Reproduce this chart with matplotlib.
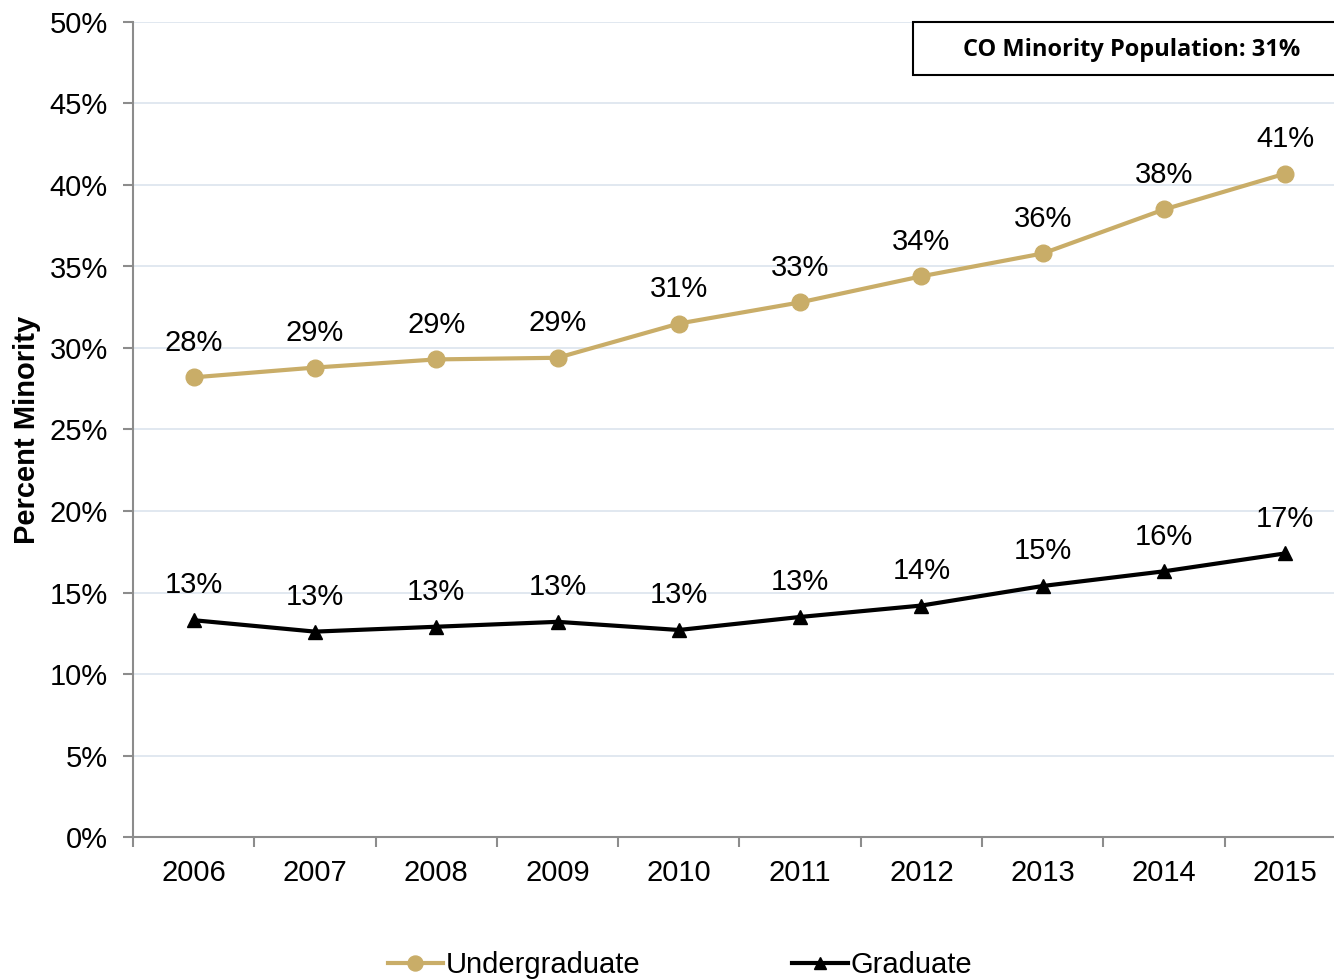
import matplotlib
matplotlib.use('Agg')
import matplotlib.pyplot as plt
from matplotlib.patches import Rectangle
from matplotlib.ticker import FuncFormatter, FixedLocator
import numpy as np

plt.rc('font', family=['Liberation Sans', 'DejaVu Sans'], size=21)

years = ['2006', '2007', '2008', '2009', '2010', '2011', '2012', '2013', '2014', '2015']
undergrad = [28.2, 28.8, 29.3, 29.4, 31.5, 32.8, 34.4, 35.8, 38.5, 40.7]
grad = [13.3, 12.6, 12.9, 13.2, 12.7, 13.5, 14.2, 15.4, 16.3, 17.4]
undergrad_labels = ['28%', '29%', '29%', '29%', '31%', '33%', '34%', '36%', '38%', '41%']
grad_labels = ['13%', '13%', '13%', '13%', '13%', '13%', '14%', '15%', '16%', '17%']
box_text = 'CO Minority Population: 31%'

gold = '#C9AD68'
spine = '#8C8C8C'

fig = plt.figure(figsize=(13.34, 9.8), dpi=100)
ax = fig.add_axes([133 / 1334, 1 - 837 / 980, 1213 / 1334, 815 / 980])

x = np.arange(len(years))
ax.plot(x, undergrad, color=gold, lw=3, marker='o', ms=12, label='Undergraduate', zorder=3)
ax.plot(x, grad, color='black', lw=3, marker='^', ms=10, label='Graduate', zorder=3)

for xi, v, t in zip(x, undergrad, undergrad_labels):
    ax.annotate(t, (xi, v), xytext=(0, 25), textcoords='offset points',
                ha='center', va='center', fontsize=21)
for xi, v, t in zip(x, grad, grad_labels):
    ax.annotate(t, (xi, v), xytext=(0, 25), textcoords='offset points',
                ha='center', va='center', fontsize=21)

ax.set_xlim(-0.5, len(years) - 0.5)
ax.set_ylim(0, 50)
ax.set_yticks(np.arange(0, 51, 5))
ax.yaxis.set_major_formatter(FuncFormatter(lambda v, p: '{:.0f}%'.format(v)))
ax.set_xticks(x)
ax.set_xticklabels(years)
ax.xaxis.set_minor_locator(FixedLocator(np.arange(-0.5, len(years), 1)))
ax.tick_params(axis='x', which='major', length=0, pad=16)
ax.tick_params(axis='x', which='minor', length=7, color=spine, width=1.5)
ax.tick_params(axis='y', length=7, color=spine, width=1.5, pad=11)
ax.grid(axis='y', color='#DCE4EE', lw=1.2)
ax.set_axisbelow(True)
for s in ('top', 'right'):
    ax.spines[s].set_visible(False)
for s in ('left', 'bottom'):
    ax.spines[s].set_color(spine)
    ax.spines[s].set_linewidth(1.5)
ax.set_ylabel('Percent Minority', fontsize=21, fontweight='bold', labelpad=6)

# population box in the top right corner
bx0 = (913 - 133) / 1213
by0 = (837 - 75) / 815
ax.add_patch(Rectangle((bx0, by0), 1.1 - bx0, 1 - by0, transform=ax.transAxes,
                       facecolor='white', edgecolor='black', lw=1.5,
                       clip_on=False, zorder=5))
ax.text((1132 - 133) / 1213, (837 - 50) / 815, box_text, transform=ax.transAxes,
        ha='center', va='center', fontsize=17, fontweight='bold',
        family=['Open Sans', 'DejaVu Sans'], zorder=6)

fig.legend(loc='center', bbox_to_anchor=(680 / 1334, 1 - 965 / 980), ncol=2,
           frameon=False, fontsize=21, handlelength=1.9, handletextpad=0.1,
           columnspacing=5.2, markerscale=0.9)

fig.savefig('out.png', dpi=100)
